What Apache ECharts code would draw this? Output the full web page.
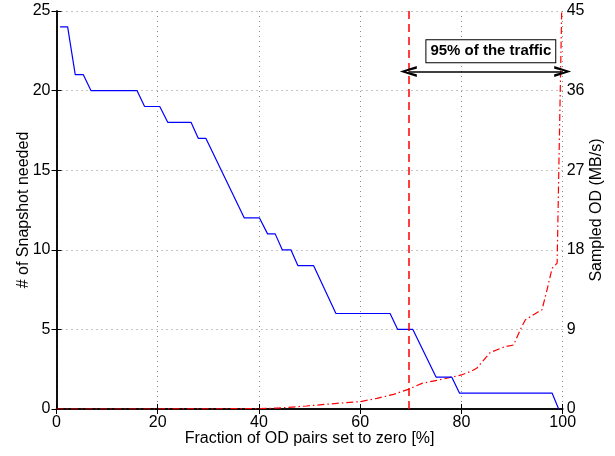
<!DOCTYPE html>
<html>
<head>
<meta charset="utf-8">
<script src="https://cdn.jsdelivr.net/npm/echarts@6/dist/echarts.min.js"></script>
<style>
  html, body { margin: 0; padding: 0; background: #fff; }
  #chart { width: 615px; height: 456px; }
</style>
</head>
<body>
<div id="chart"></div>
<script>
// Number of snapshots needed vs. fraction of OD pairs zeroed (step curve)
const snapFraction = [0.7, 2.2, 3.7, 5.3, 6.8, 15.9, 17.4, 20.4, 22.0, 26.6, 28.0, 29.5,
  37.1, 40.1, 41.7, 43.2, 44.6, 46.3, 47.7, 50.8, 55.2, 65.9, 67.4, 70.4, 75.0, 78.1,
  79.6, 97.9, 99.2];
const snapCount = [24, 24, 21, 21, 20, 20, 19, 19, 18, 18, 17, 17,
  12, 12, 11, 11, 10, 10, 9, 9, 6, 6, 5, 5, 2, 2,
  1, 1, 0];

// Sampled OD traffic (MB/s) against the same fraction
const odFraction = [0, 20, 30, 40, 43.5, 49.4, 55.4, 60, 63.3, 66.6, 69.5, 72.2, 75.5,
  78, 80, 82, 83, 85.7, 88.6, 90.3, 91.6, 92.6, 95.2, 95.9, 96.9, 97.9, 98.9, 99.8];
const odRate = [0, 0, 0.02, 0.05, 0.1, 0.34, 0.64, 0.83, 1.2, 1.66, 2.22, 2.9, 3.28,
  3.6, 3.85, 4.3, 4.6, 6.4, 7.05, 7.24, 8.94, 10.07, 11.0, 11.2, 13.46, 15.9, 16.5, 45];

// Axis ticks
const xTicks = [0, 20, 40, 60, 80, 100];
const leftTicks = [0, 5, 10, 15, 20, 25];
const rightTicks = [0, 9, 18, 27, 36, 45];

// Traffic threshold annotation
const thresholdX = 69.5;
const spanEndX = 100;
const spanLevel = 21.2;
const spanLabel = '95% of the traffic';
const labelPos = [85.8, 22.47];

const FONT = '"Liberation Sans", Arial, Helvetica, sans-serif';

const chart = echarts.init(document.getElementById('chart'), null, { renderer: 'canvas' });

const gridLine = { show: true, lineStyle: { color: '#8c8c8c', type: [1, 4], width: 1 } };
const axisLine = { show: true, lineStyle: { color: '#000', width: 1.5 } };
const tickStyle = { show: true, inside: true, length: 5, lineStyle: { color: '#000', width: 1 } };
const labelStyle = { color: '#000', fontSize: 16, fontFamily: FONT };
const titleStyle = { color: '#000', fontSize: 16, fontFamily: FONT };

// Open arrowhead, tip pointing up (rotated by markLine along the line)
const arrowHead = 'path://M5 0 L10 17 L7.6 17 L5 6 L2.4 17 L0 17 Z';

chart.setOption({
  animation: false,
  backgroundColor: '#fff',
  grid: { left: 56.5, right: 52.3, top: 11, bottom: 47, containLabel: false },
  xAxis: [
    {
      type: 'value', min: 0, max: 100, interval: 20,
      axisLine: axisLine, axisTick: tickStyle, splitLine: gridLine,
      axisLabel: Object.assign({ margin: 6, formatter: v => xTicks.includes(v) ? String(v) : '' }, labelStyle),
      name: 'Fraction of OD pairs set to zero [%]', nameLocation: 'middle', nameGap: 21.5,
      nameMoveOverlap: false,
      nameTextStyle: titleStyle
    },
    {
      type: 'value', position: 'top', min: 0, max: 100, interval: 20,
      axisLine: axisLine, axisTick: tickStyle, axisLabel: { show: false }, splitLine: { show: false }
    }
  ],
  yAxis: [
    {
      type: 'value', min: 0, max: 25, interval: 5,
      axisLine: axisLine, axisTick: tickStyle, splitLine: gridLine,
      axisLabel: Object.assign({ margin: 6, formatter: v => leftTicks.includes(v) ? String(v) : '' }, labelStyle),
      name: '# of Snapshot needed', nameLocation: 'middle', nameGap: 24.5, nameRotate: 90,
      nameMoveOverlap: false,
      nameTextStyle: titleStyle
    },
    {
      type: 'value', min: 0, max: 45, interval: 9, position: 'right',
      axisLine: axisLine, axisTick: tickStyle, splitLine: { show: false },
      axisLabel: Object.assign({ margin: 4, formatter: v => rightTicks.includes(v) ? String(v) : '' }, labelStyle),
      name: 'Sampled OD (MB/s)', nameLocation: 'middle', nameGap: 26, nameRotate: 90,
      nameMoveOverlap: false,
      nameTextStyle: titleStyle
    }
  ],
  series: [
    {
      name: 'snapshots', type: 'line', xAxisIndex: 0, yAxisIndex: 0,
      data: snapFraction.map((x, i) => [x, snapCount[i]]),
      showSymbol: false, symbol: 'none',
      lineStyle: { color: '#0000ff', width: 1.2 },
      z: 3
    },
    {
      name: 'traffic', type: 'line', xAxisIndex: 0, yAxisIndex: 1,
      data: odFraction.map((x, i) => [x, odRate[i]]),
      showSymbol: false, symbol: 'none',
      lineStyle: { color: '#ff0000', width: 1.2, type: [7, 3, 1.5, 3] },
      z: 2
    },
    {
      // Threshold marker and span annotation
      name: 'annotation', type: 'line', xAxisIndex: 0, yAxisIndex: 0,
      data: [],
      markLine: {
        silent: true, animation: false,
        label: { show: false },
        data: [
          [
            { coord: [thresholdX, 0], symbol: 'none' },
            { coord: [thresholdX, 25], symbol: 'none', lineStyle: { color: '#ff0000', width: 1.5, type: [8, 5] } }
          ],
          [
            { coord: [thresholdX, spanLevel], symbol: arrowHead, symbolSize: [11, 17] },
            { coord: [spanEndX, spanLevel], symbol: arrowHead, symbolSize: [11, 17], lineStyle: { color: '#000', width: 1.5, type: 'solid' } }
          ]
        ],
        lineStyle: { color: '#000', width: 1.5, type: 'solid' },
        itemStyle: { color: '#000' }
      },
      markPoint: {
        silent: true, animation: false,
        symbol: 'rect', symbolSize: 0,
        data: [{ coord: labelPos, value: spanLabel }],
        label: {
          show: true, position: 'inside', formatter: spanLabel,
          color: '#000', fontSize: 15, fontWeight: 'bold', fontFamily: FONT,
          backgroundColor: '#fff', borderColor: '#000', borderWidth: 1,
          padding: [4, 4, 3, 4]
        }
      },
      z: 4
    }
  ]
});
</script>
</body>
</html>
